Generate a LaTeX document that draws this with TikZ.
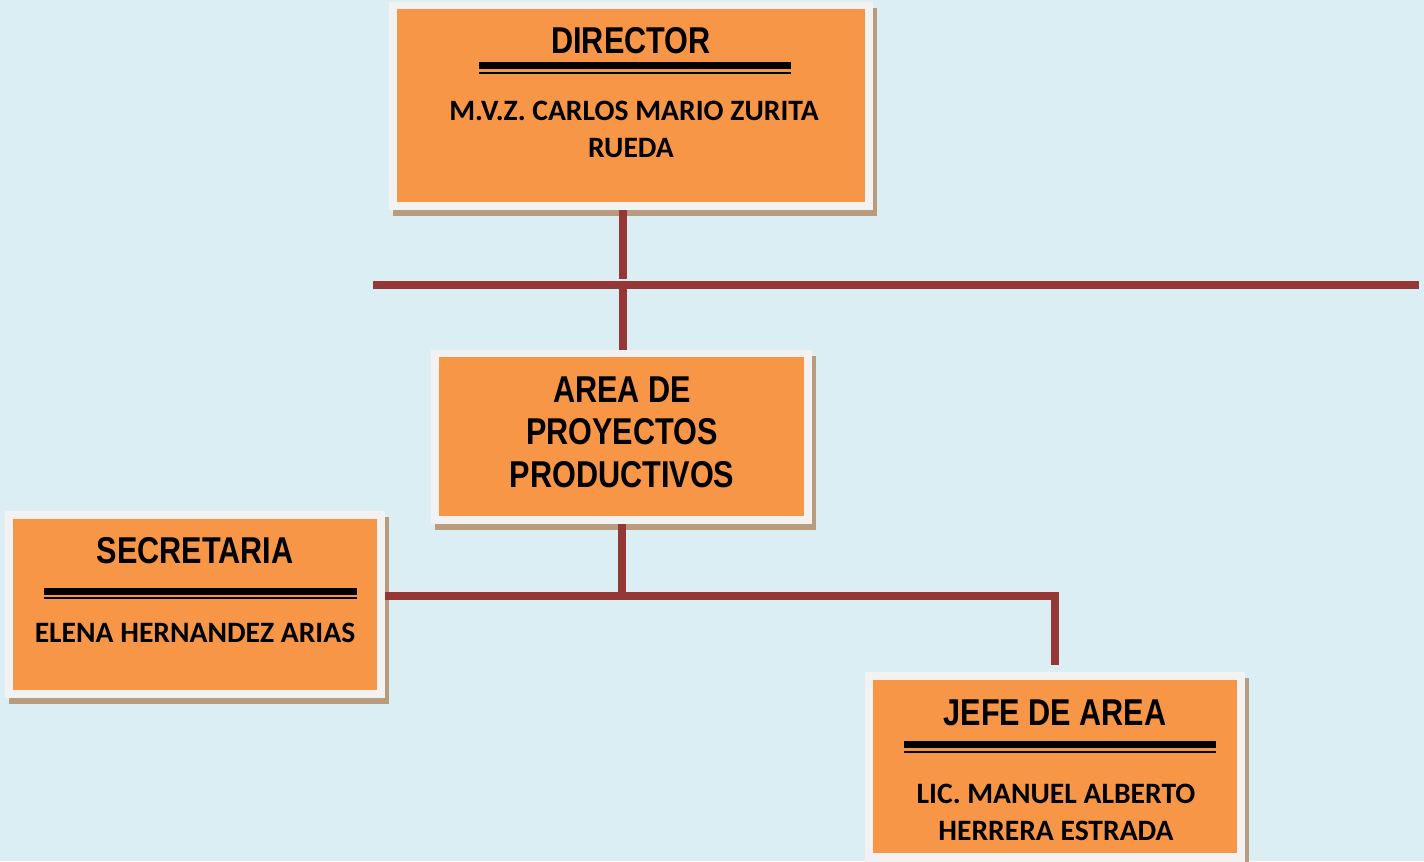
\documentclass[tikz,border=0pt]{standalone}
\usepackage{fontspec}
\usetikzlibrary{fit,shadows}
\newfontfamily\tfont{Liberation Sans}[FakeStretch=0.82]
\newfontfamily\nfont{Carlito}
\definecolor{bgc}{RGB}{218,238,243}
\definecolor{framec}{RGB}{242,242,242}
\definecolor{orangec}{RGB}{247,150,70}
\definecolor{shadowc}{RGB}{185,156,125}
\definecolor{connc}{RGB}{149,55,53}
\tikzset{
  boxframe/.style={inner sep=0pt, fill=framec,
    general shadow={shadow xshift=3pt, shadow yshift=-4.5pt, fill=shadowc}},
  boxinner/.style={inner sep=0pt, fill=orangec},
  titletext/.style={anchor=base, inner sep=0pt, font=\tfont\bfseries\fontsize{28pt}{30pt}\selectfont},
  dtitletext/.style={titletext, font=\tfont\bfseries\fontsize{28pt}{30pt}\selectfont},
  nametext/.style={anchor=base, inner sep=0pt, font=\nfont\bfseries\fontsize{22.2pt}{25pt}\selectfont},
  conn/.style={draw=connc, line width=6pt},
  rulethick/.style={fill=black},
}
\begin{document}
\begin{tikzpicture}[x=0.75pt,y=-0.75pt]
\useasboundingbox (0,0) rectangle (1424,861);
\clip (0,0) rectangle (1424,861);
\fill[bgc] (0,0) rectangle (1424,861);

% connectors
\coordinate (hl) at (373,285);
\coordinate (hr) at (1419,285);
\coordinate (j1) at (623,285);
\coordinate (j1t) at (623,279);
\coordinate (j2) at (622,595.5);
\coordinate (jr) at (1055,595.5);
\coordinate (je) at (1055,665);
\draw[conn] (hl) -- (hr);

% DIRECTOR
\node[boxframe, fit={(389,2) (873,210)}] (dirF) {};
\node[boxinner, fit={(397,9) (865,202)}] (dir) {};
\node[dtitletext] (dirT) at (631,53) {DIRECTOR};
\fill[rulethick] (479,62) rectangle (791,69);
\fill[rulethick] (479,71.5) rectangle (791,73.5);
\node[nametext] (dirN1) at (634,120) {M.V.Z. CARLOS MARIO ZURITA};
\node[nametext] (dirN2) at (631,157) {RUEDA};

% AREA
\node[boxframe, fit={(431,350) (812,524)}] (areaF) {};
\node[boxinner, fit={(439,357) (804,516)}] (area) {};
\node[titletext] (areaT1) at (622,402) {AREA DE};
\node[titletext] (areaT2) at (622,444.5) {PROYECTOS};
\node[titletext] (areaT3) at (622,487) {PRODUCTIVOS};

% SECRETARIA
\node[boxframe, fit={(5,511) (385,698)}] (secF) {};
\node[boxinner, fit={(13,519) (377,690)}] (sec) {};
\node[titletext] (secT) at (195,563) {SECRETARIA};
\fill[rulethick] (44,588) rectangle (357,595);
\fill[rulethick] (44,597) rectangle (357,599);
\node[nametext] (secN) at (195,642) {ELENA HERNANDEZ ARIAS};

% JEFE
\node[boxframe, fit={(865,672) (1245,875)}] (jefF) {};
\node[boxinner, fit={(873,680) (1237,853)}] (jef) {};
\node[titletext] (jefT) at (1055,725) {JEFE DE AREA};
\fill[rulethick] (904,741) rectangle (1216,748);
\fill[rulethick] (904,751) rectangle (1216,753);
\node[nametext] (jefN1) at (1056,803) {LIC. MANUEL ALBERTO};
\node[nametext] (jefN2) at (1056,840) {HERRERA ESTRADA};

% vertical connectors
\draw[conn] (j1 |- dirF.south) -- (j1t);
\draw[conn] (j1) -- (j1 |- areaF.north);
\draw[conn] (j2 |- areaF.south) -- (j2);
\draw[conn] (secF.east |- j2) -- (jr) -- (je);
\end{tikzpicture}
\end{document}
